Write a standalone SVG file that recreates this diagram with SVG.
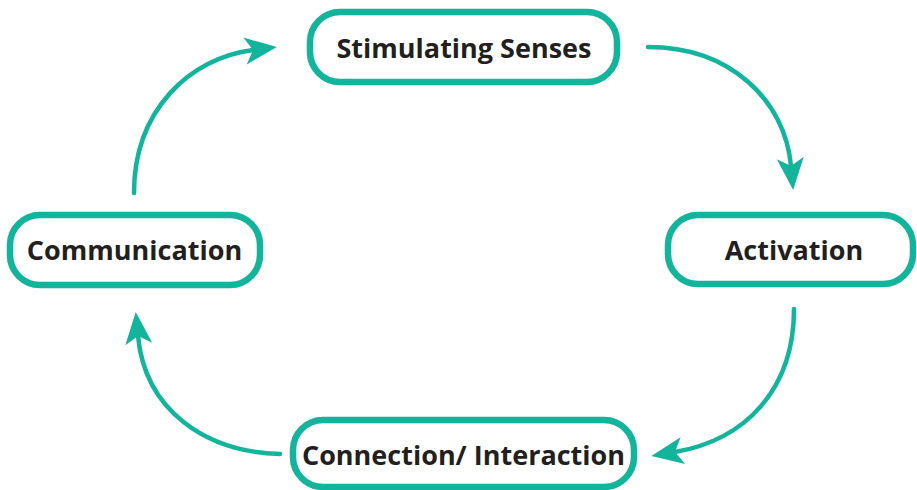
<svg xmlns="http://www.w3.org/2000/svg" width="917" height="490" viewBox="0 0 917 490">
<style>
.box{fill:#fff;stroke:#13b49c;stroke-width:6.5}
.lbl{font-family:"Open Sans","Noto Sans","Liberation Sans",sans-serif;font-weight:bold;font-size:27px;fill:#231f20;text-anchor:middle}
.con{fill:none;stroke:#13b49c;stroke-width:4.5;stroke-linecap:round}
</style>
<defs>
<marker id="ah" markerUnits="userSpaceOnUse" markerWidth="40" markerHeight="40" viewBox="-10 -15 40 30" refX="0" refY="0" orient="auto">
<path d="M-8,-13.5 L24,0 L-8,13.5 L0,0 Z" fill="#13b49c"/>
</marker>
</defs>
<rect width="917" height="490" fill="#fff"/>
<g id="connectors">
<path class="con" d="M134,193 C134,110 190,58 253,50" marker-end="url(#ah)"/>
<path class="con" d="M648,47 C730,47 785,100 791,166" marker-end="url(#ah)"/>
<path class="con" d="M794,309 C794,390 745,440 675,452" marker-end="url(#ah)"/>
<path class="con" d="M280,454 C205,452 145,410 138,336" marker-end="url(#ah)"/>
</g>
<g id="stimulating">
<rect class="box" x="310" y="12" width="307" height="70" rx="30"/>
<text class="lbl" x="464" y="58">Stimulating Senses</text>
</g>
<g id="activation">
<rect class="box" x="668" y="215" width="245" height="69" rx="30"/>
<text class="lbl" x="794" y="260">Activation</text>
</g>
<g id="communication">
<rect class="box" x="10" y="215" width="250" height="70" rx="30"/>
<text class="lbl" x="134.5" y="260">Communication</text>
</g>
<g id="connection">
<rect class="box" x="293" y="420" width="341" height="67" rx="30"/>
<text class="lbl" x="463.5" y="465">Connection/ Interaction</text>
</g>
</svg>
